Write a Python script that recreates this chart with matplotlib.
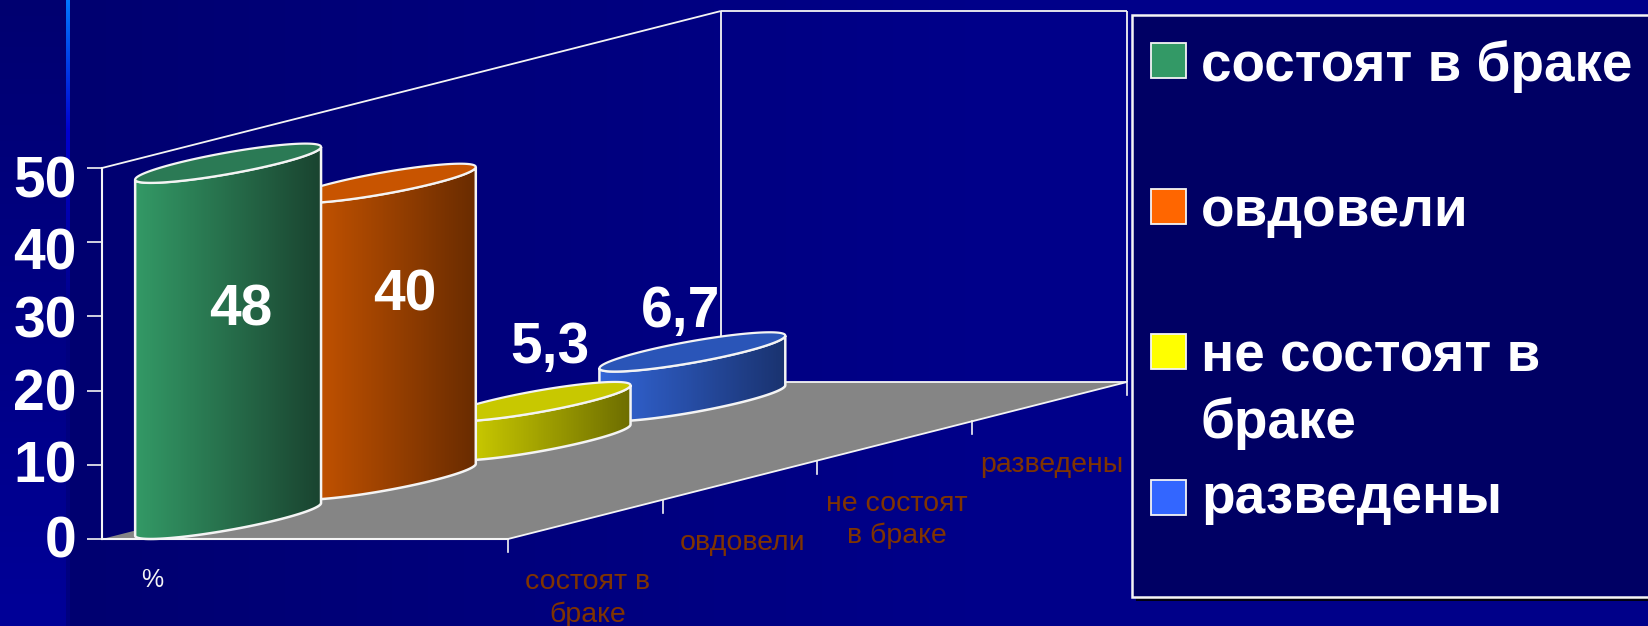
import numpy as np
import matplotlib
matplotlib.use('Agg')
import matplotlib.pyplot as plt
from matplotlib.patches import Polygon, Rectangle
from matplotlib.colors import LinearSegmentedColormap
from matplotlib.transforms import ScaledTranslation

plt.rcParams['font.family'] = ['Liberation Sans', 'DejaVu Sans']

categories = ['состоят в\nбраке', 'овдовели', 'не состоят\nв браке', 'разведены']
legend_labels = ['состоят в браке', 'овдовели', 'не состоят в\nбраке', 'разведены']
values = [48, 40, 5.3, 6.7]
value_labels = ['48', '40', '5,3', '6,7']
y_ticks = [0, 10, 20, 30, 40, 50]

legend_colors = ['#339966', '#ff6600', '#ffff00', '#3366ff']
light_colors = ['#339966', '#d05800', '#d8d800', '#3366d8']
dark_colors = ['#1a4430', '#6a2c00', '#6e6e00', '#1a3370']
top_colors = ['#2b7a55', '#c85400', '#c8c800', '#2a55b8']

# geometrie dello pseudo 3d, in pixel
W, H = 1648, 626
x0, y0 = 102, 539
px_per_unit = 7.42
floor_w = 406
depth_dx = 154.75
depth_dy = 39.25 / px_per_unit
n_depth = 4


def yp(py):
    return (y0 - py) / px_per_unit


def project(xf, depth, value):
    return x0 + xf * floor_w + depth * depth_dx, value + depth * depth_dy


fig = plt.figure(figsize=(W / 100, H / 100), dpi=100)
ax = fig.add_axes([0, 0, 1, 1])

# sfondo
bg = np.zeros((H, W, 3))
bg[:, :, 2] = np.interp(np.arange(W), [70, 1000], [0x70, 0x8a])[None, :] / 255
bg[:, :68, 2] = (np.linspace(0x70, 0x98, H) / 255)[:, None]
glow = np.clip(1 - np.arange(H) / 130, 0, 1)
glow2 = np.clip(1 - np.arange(H) / 340, 0, 1)
bg[:, 66:70, 1] = (0.47 * glow)[:, None]
bg[:, 66:70, 2] = (0.5 + 0.5 * glow2)[:, None]
ax.imshow(bg, extent=(0, W, yp(H), yp(0)), aspect='auto', zorder=0)

WHITE = '#f4f4f4'

# pavimento e pareti
corners = [project(0, 0, 0), project(1, 0, 0), project(1, n_depth, 0), project(0, n_depth, 0)]
ax.add_patch(Polygon(corners, closed=True, facecolor='#858585', edgecolor='none', zorder=1))
lines = [
    (project(0, 0, 50), project(0, n_depth, 50)),
    (project(0, n_depth, 50), project(1, n_depth, 50)),
    (project(0, n_depth, 50), project(0, n_depth, 0)),
    (project(1, n_depth, 50), project(1, n_depth, 0)),
    (project(0, n_depth, 0), project(1, n_depth, 0)),
    (project(1, 0, 0), project(1, n_depth, 0)),
]
for a, b in lines:
    ax.plot([a[0], b[0]], [a[1], b[1]], color=WHITE, lw=1.3, zorder=2, solid_capstyle='butt')

for d in range(n_depth + 1):
    tx, ty = project(1, d, 0)
    ax.plot([tx, tx], [ty, ty - 13 / px_per_unit], color=WHITE, lw=1.2, zorder=2)

# cilindri, dal fondo verso il davanti
u = 51.5
v_x = depth_dx / 2
v_y = depth_dy / 2
t0 = np.arctan2(v_x, u)
t_front = np.linspace(t0 + np.pi, t0 + 2 * np.pi, 60)
t_all = np.linspace(0, 2 * np.pi, 120)

for i in reversed(range(len(values))):
    z = 10 + (len(values) - i) * 3
    cx, cy = project(0.12, i + 0.5, 0)
    ex = u * np.cos(t_front) + v_x * np.sin(t_front)
    ey = v_y * np.sin(t_front)
    bottom = np.column_stack([cx + ex, cy + ey])
    top = np.column_stack([cx + ex, cy + ey + values[i]])[::-1]
    body = np.vstack([bottom, top, bottom[:1]])
    cmap = LinearSegmentedColormap.from_list('c', [light_colors[i], dark_colors[i]])
    im = ax.imshow(np.linspace(0, 1, 64)[None, :], cmap=cmap, aspect='auto', zorder=z,
                   extent=(body[:, 0].min(), body[:, 0].max(), body[:, 1].min(), body[:, 1].max()))
    patch = Polygon(body, closed=True, facecolor='none', edgecolor=WHITE, lw=1.8, zorder=z + 1)
    ax.add_patch(patch)
    im.set_clip_path(patch)
    tx = cx + u * np.cos(t_all) + v_x * np.sin(t_all)
    ty = cy + v_y * np.sin(t_all) + values[i]
    ax.fill(tx, ty, facecolor=top_colors[i], edgecolor=WHITE, lw=1.6, zorder=z + 1)

# etichette dei valori: spostamento in pixel dal centro del cilindro in cima
label_shift = [(13, -147), (22, -112), (12, 54), (-12, 40)]
for i, lab in enumerate(value_labels):
    cx, cy = project(0.12, i + 0.5, values[i])
    ax.text(cx + label_shift[i][0], cy + label_shift[i][1] / px_per_unit, lab, color='white', fontsize=41,
            fontweight='bold', ha='center', va='center', zorder=40)

# etichette delle categorie
for i, cat in enumerate(categories):
    tx, ty = project(1, i + 0.5, 0)
    ax.text(tx + 2, ty - 50 / px_per_unit, cat, color='#803400', fontsize=20.5, ha='center', va='top',
            linespacing=1.3, zorder=5)

ax.text(152, yp(580), '%', color=WHITE, fontsize=18, ha='center', va='center', zorder=5)

# legenda
ax.add_patch(Rectangle((1136, yp(601)), W, yp(18) - yp(601), facecolor='#000010', zorder=6))
ax.add_patch(Rectangle((1132, yp(597)), W, yp(15) - yp(597), facecolor='#000064', edgecolor=WHITE,
                       lw=1.8, zorder=7))
swatch_tops = [43, 189, 334, 480]
text_tops = [40, 186, 331, 473]
for col, lab, st, tt in zip(legend_colors, legend_labels, swatch_tops, text_tops):
    ax.add_patch(Rectangle((1151, yp(st + 35)), 35, 35 / px_per_unit, facecolor=col, edgecolor=WHITE,
                           lw=1.3, zorder=8))
    ax.text(1201, yp(tt), lab, color='white', fontsize=39.5, fontweight='bold', ha='left', va='top',
            linespacing=1.34, zorder=8)

# assi
for s in ['top', 'right']:
    ax.spines[s].set_visible(False)
ax.spines['left'].set_position(('data', x0))
ax.spines['left'].set_bounds(0, 50)
ax.spines['bottom'].set_position(('data', 0))
ax.spines['bottom'].set_bounds(x0, x0 + floor_w)
ax.spines['left'].set_color(WHITE)
ax.spines['bottom'].set_color(WHITE)
ax.spines['left'].set_linewidth(1.5)
ax.spines['bottom'].set_linewidth(1.5)
for s in ax.spines.values():
    s.set_zorder(3)
ax.set_xticks([])
ax.set_yticks(y_ticks)
ax.tick_params(axis='y', length=11, width=1.2, color=WHITE, labelcolor='white', labelsize=41, pad=7)
tick_shift = [2, 3, 1, 0, -6, -8]  # le etichette non sono allineate alle tacche nell'originale
for t, sh in zip(ax.get_yticklabels(), tick_shift):
    t.set_fontweight('bold')
    t.set_transform(t.get_transform() + ScaledTranslation(0, sh / 100, fig.dpi_scale_trans))

ax.set_xlim(0, W)
ax.set_ylim(yp(H), yp(0))

fig.savefig('out.png', dpi=100, facecolor='#000080')
